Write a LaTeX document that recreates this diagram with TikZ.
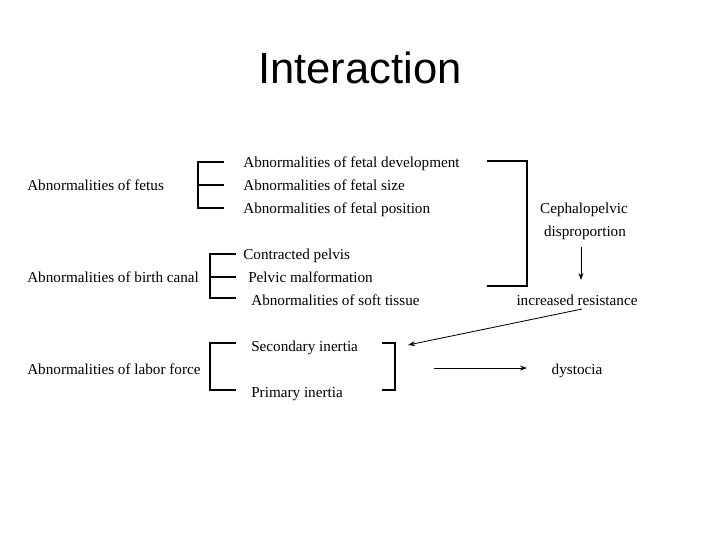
\documentclass[tikz,border=0pt]{standalone}
\usepackage{fontspec}
\setmainfont{Liberation Serif}
\newfontfamily\titlefont{Liberation Sans}
\usetikzlibrary{positioning,arrows.meta}

\begin{document}
\begin{tikzpicture}[x=0.025cm,y=-0.025cm]
    \tikzstyle{label} = [inner sep=0pt, text height=2.1ex, text depth=0.4ex, font=\fontsize{10.8}{13}\selectfont]
    \tikzstyle{item} = [label, anchor=west]
    \tikzstyle{bracket} = [line width=0.8pt]
    \tikzstyle{link} = [line width=0.6pt, -{Stealth[length=5pt,width=3.5pt]}]

    \useasboundingbox (0,0) rectangle (720,540);

    % Title
    \node[font=\titlefont\fontsize{31}{36}\selectfont] (title) at (360,68) {Interaction};

    % Fetus group
    \node[item] (fetus) at (27,185) {Abnormalities of fetus};
    \node[item] (fdev) at (243,162) {Abnormalities of fetal development};
    \node[item] (fsize) at (243,185) {Abnormalities of fetal size};
    \node[item] (fpos) at (243,208) {Abnormalities of fetal position};
    \draw[bracket] (224,162) -| (198,208) -- (224,208);
    \draw[bracket] (198,185) -- (224,185);

    % Birth canal group
    \node[item] (canal) at (27,277) {Abnormalities of birth canal};
    \node[item] (contr) at (243,254) {Contracted pelvis};
    \node[item] (malf) at (248,277) {Pelvic malformation};
    \node[item] (soft) at (251,300) {Abnormalities of soft tissue};
    \draw[bracket] (236,254) -| (210,298) -- (236,298);
    \draw[bracket] (210,277) -- (236,277);

    % Labor force group
    \node[item] (labor) at (27,369) {Abnormalities of labor force};
    \node[item] (sec) at (251,346) {Secondary inertia};
    \node[item] (prim) at (251,392) {Primary inertia};
    \draw[bracket] (236,343) -| (210,390) -- (236,390);
    \draw[bracket] (382,343) -| (395,390) -- (382,390);
    \coordinate (lbin) at (408,345);
    \coordinate (lbout) at (434,368);

    % Cephalopelvic disproportion
    \draw[bracket] (487,161) -| (527,286) -- (487,286);
    \node[label] (ceph) at (584,208) {Cephalopelvic};
    \node[label] (disp) at (585,231) {disproportion};
    \node[label] (incres) at (577,300) {increased resistance};
    \node[label] (dyst) at (577,369) {dystocia};
    \coordinate (dtop) at (581,247);
    \coordinate (dbot) at (581,280);
    \coordinate (rstart) at (582,309);

    \draw[link] (dtop) -- (dbot);
    \draw[link] (rstart) -- (lbin);
    \draw[link] (lbout) -- (lbout -| 527,0);
\end{tikzpicture}
\end{document}
